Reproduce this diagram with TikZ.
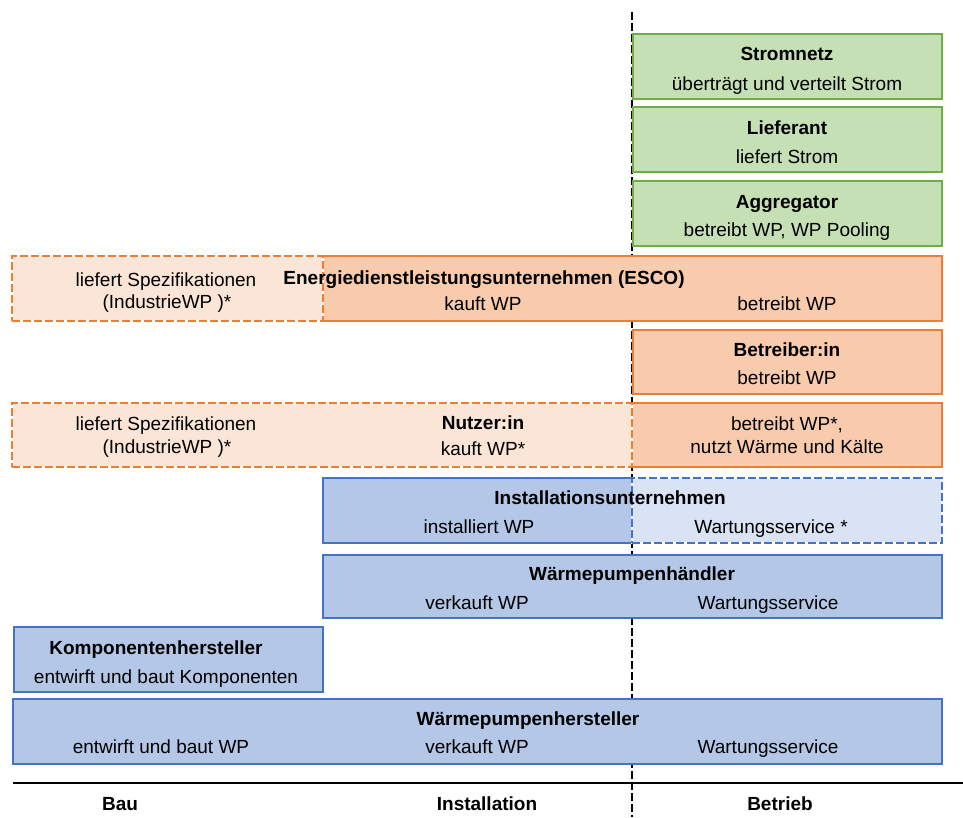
\documentclass[tikz,border=0pt]{standalone}
\usepackage{fontspec}
\setmainfont{Liberation Sans}
\begin{document}
\definecolor{grfill}{HTML}{C5E0B4}
\definecolor{grline}{HTML}{70AD47}
\definecolor{orfill}{HTML}{F8CBAD}
\definecolor{orlight}{HTML}{FBE5D6}
\definecolor{orline}{HTML}{ED7D31}
\definecolor{blfill}{HTML}{B4C7E7}
\definecolor{bllight}{HTML}{DAE3F3}
\definecolor{blline}{HTML}{4472C4}
\begin{tikzpicture}[x=1pt,y=-1pt,
  every node/.style={font=\fontsize{19}{23}\selectfont, inner sep=0pt, outer sep=0pt},
  area/.style={anchor=north west, rectangle, line width=2pt},
  greenbox/.style={area, fill=grfill, draw=grline},
  orangebox/.style={area, fill=orfill, draw=orline},
  orangefill/.style={area, fill=orfill},
  orangedash/.style={area, fill=orlight, draw=white,
    postaction={draw=orline, line width=2pt, dash pattern=on 8pt off 3pt}},
  bluebox/.style={area, fill=blfill, draw=blline},
  bluefill/.style={area, fill=blfill},
  bluedash/.style={area, fill=bllight, draw=white,
    postaction={draw=blline, line width=2pt, dash pattern=on 8pt off 3pt}},
  edge/.style={line width=2pt},
  ttl/.style={anchor=base, font=\fontsize{19}{23}\selectfont\bfseries},
  txt/.style={anchor=base, align=center},
  phase/.style={anchor=base, font=\fontsize{19}{23}\selectfont\bfseries}]

\useasboundingbox (0,0) rectangle (963,817);

% phase boundary between installation and operation
\coordinate (vtop) at (632,12);
\coordinate (vbot) at (632,817);
\draw[line width=2pt, dash pattern=on 8pt off 3pt] (vtop) -- (vbot);

% time axis
\coordinate (axl) at (13,783);
\coordinate (axr) at (963,783);
\draw[line width=2.5pt] (axl) -- (axr);

% --- grid actors ---
\node[greenbox, minimum width=309pt, minimum height=65pt] (strom) at (633,34) {};
\node[greenbox, minimum width=309pt, minimum height=65pt] (liefer) at (633,107) {};
\node[greenbox, minimum width=309pt, minimum height=65pt] (aggr) at (633,181) {};

% --- ESCO ---
\node[orangefill, minimum width=619pt, minimum height=65pt] (escoR) at (323,256) {};
\draw[edge, orline] (escoR.north west) -- (escoR.north east) -- (escoR.south east) -- (escoR.south west);
\node[orangedash, minimum width=311pt, minimum height=65pt] (escoL) at (12,256) {};

% --- Betreiber:in ---
\node[orangebox, minimum width=309pt, minimum height=64pt] (betr) at (633,330) {};

% --- Nutzer:in ---
\node[orangefill, minimum width=310pt, minimum height=64pt] (nutzR) at (632,403) {};
\draw[edge, orline] (nutzR.north west) -- (nutzR.north east) -- (nutzR.south east) -- (nutzR.south west);
\node[orangedash, minimum width=620pt, minimum height=64pt] (nutzL) at (12,403) {};

% --- Installationsunternehmen ---
\node[bluefill, minimum width=309pt, minimum height=65pt] (instL) at (323,478) {};
\draw[edge, blline] (instL.north east) -- (instL.north west) -- (instL.south west) -- (instL.south east);
\node[bluedash, minimum width=310pt, minimum height=65pt] (instR) at (632,478) {};

% --- remaining manufacturers and trade ---
\node[bluebox, minimum width=619pt, minimum height=63pt] (haendler) at (323,555) {};
\node[bluebox, minimum width=309pt, minimum height=65pt] (komp) at (14,627) {};
\node[bluebox, minimum width=929pt, minimum height=65pt] (wphst) at (13,699) {};

% --- texts ---
\node[ttl] (t1) at (787,60) {Stromnetz};
\node[txt] (t2) at (787,90) {überträgt und verteilt Strom};
\node[ttl] (t3) at (787,134) {Lieferant};
\node[txt] (t4) at (787,163) {liefert Strom};
\node[ttl] (t5) at (787,208) {Aggregator};
\node[txt] (t6) at (787,236) {betreibt WP, WP Pooling};

\node[ttl] (t7) at (484,284) {Energiedienstleistungsunternehmen (ESCO)};
\node[txt] (t8) at (483,310) {kauft WP};
\node[txt] (t9) at (787,310) {betreibt WP};
\node[txt] (t10) at (166,286) {liefert Spezifikationen};
\node[txt] (t11) at (167,308) {(IndustrieWP )*};

\node[ttl] (t12) at (787,356) {Betreiber:in};
\node[txt] (t13) at (787,384) {betreibt WP};

\node[txt] (t14) at (166,430) {liefert Spezifikationen};
\node[txt] (t15) at (167,453) {(IndustrieWP )*};
\node[ttl] (t16) at (483,429) {Nutzer:in};
\node[txt] (t17) at (483,455) {kauft WP*};
\node[txt] (t18) at (787,430) {betreibt WP*,};
\node[txt] (t19) at (787,453) {nutzt Wärme und Kälte};

\node[ttl] (t20) at (610,504) {Installationsunternehmen};
\node[txt] (t21) at (479,533) {installiert WP};
\node[txt] (t22) at (771,533) {Wartungsservice *};

\node[ttl] (t23) at (632,580) {Wärmepumpenhändler};
\node[txt] (t24) at (477,609) {verkauft WP};
\node[txt] (t25) at (768,609) {Wartungsservice};

\node[ttl] (t26) at (156,654) {Komponentenhersteller};
\node[txt] (t27) at (166,683) {entwirft und baut Komponenten};

\node[ttl] (t28) at (528,725) {Wärmepumpenhersteller};
\node[txt] (t29) at (161,753) {entwirft und baut WP};
\node[txt] (t30) at (477,753) {verkauft WP};
\node[txt] (t31) at (768,753) {Wartungsservice};

\node[phase] (p1) at (120,810) {Bau};
\node[phase] (p2) at (487,810) {Installation};
\node[phase] (p3) at (780,810) {Betrieb};
\end{tikzpicture}
\end{document}
